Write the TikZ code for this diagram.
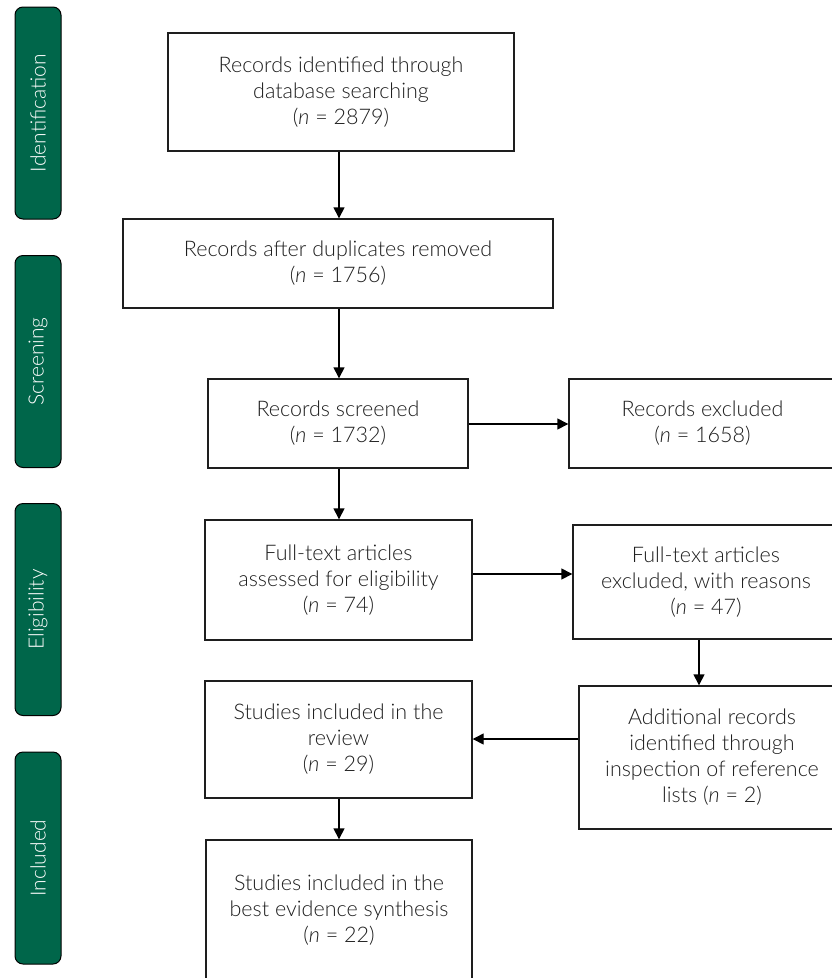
\documentclass[tikz,border=0pt]{standalone}
\usepackage{fontspec}
\setmainfont{Lato}[UprightFont={* Light}, ItalicFont={* Light Italic}]
\usetikzlibrary{arrows.meta}
\definecolor{pgreen}{HTML}{00664A}
\definecolor{ink}{HTML}{1E1E1E}
\tikzset{
  box/.style={draw=ink, line width=1.4pt, align=center, text=ink, inner sep=0pt,
    font=\fontsize{21.5}{26}\selectfont},
  phase/.style={draw=black, line width=1pt, fill=pgreen, rounded corners=8pt,
    minimum width=46pt, minimum height=212pt, inner sep=0pt},
  phasetext/.style={text=white, rotate=90, font=\fontsize{21}{24}\selectfont},
  arr/.style={draw=black, line width=1.4pt, -{Triangle[length=11pt,width=11pt]}}
}
\begin{document}
\begin{tikzpicture}[x=1pt,y=-1pt]
\clip (0,0) rectangle (832,978);
\fill[white] (0,0) rectangle (832,978);
% phase bars
\node[phase] (pid) at (38,113) {};
\node[phasetext] at (pid) {Identification};
\node[phase] (pscr) at (38,361.5) {};
\node[phasetext] at (pscr) {Screening};
\node[phase] (pel) at (38,609.5) {};
\node[phasetext] at (pel) {Eligibility};
\node[phase] (pinc) at (38,858) {};
\node[phasetext] at (pinc) {Included};
% boxes
\node[box, minimum width=346pt, minimum height=118pt] (id) at (341,92)
  {Records identified through\\database searching\\(\textit{n} = 2879)};
\node[box, minimum width=430pt, minimum height=89pt] (dup) at (338,263.5)
  {Records after duplicates removed\\(\textit{n} = 1756)};
\node[box, minimum width=260pt, minimum height=89pt] (scr) at (338,423.5)
  {Records screened\\(\textit{n} = 1732)};
\node[box, minimum width=267pt, minimum height=89pt] (exc) at (702.5,423.5)
  {Records excluded\\(\textit{n} = 1658)};
\node[box, minimum width=267pt, minimum height=120pt] (ft) at (338.5,580)
  {Full-text articles\\assessed for eligibility\\(\textit{n} = 74)};
\node[box, minimum width=266pt, minimum height=114pt] (ftx) at (706,582)
  {Full-text articles\\excluded, with reasons\\(\textit{n} = 47)};
\node[box, minimum width=266pt, minimum height=143pt] (add) at (712,757.5)
  {Additional records\\identified through\\inspection of reference\\lists (\textit{n} = 2)};
\node[box, minimum width=267pt, minimum height=117pt] (rev) at (338.5,739.5)
  {Studies included in the\\review\\(\textit{n} = 29)};
\node[box, minimum width=266pt, minimum height=140pt] (bes) at (339,910)
  {Studies included in the\\best evidence synthesis\\(\textit{n} = 22)};
% connector helper coordinates
\coordinate (c1) at (339,0);
\coordinate (c2) at (0,574);
\coordinate (c3) at (699,0);
\coordinate (c4) at (0,424);
\coordinate (c5) at (0,739);
% connectors
\draw[arr] (id.south -| c1) -- (dup.north -| c1);
\draw[arr] (dup.south -| c1) -- (scr.north -| c1);
\draw[arr] (scr.east |- c4) -- (exc.west |- c4);
\draw[arr] (scr.south -| c1) -- (ft.north -| c1);
\draw[arr] (ft.east |- c2) -- (ftx.west |- c2);
\draw[arr] (ftx.south -| c3) -- (add.north -| c3);
\draw[arr] (add.west |- c5) -- (rev.east |- c5);
\draw[arr] (rev.south -| c1) -- (bes.north -| c1);
\end{tikzpicture}
\end{document}
